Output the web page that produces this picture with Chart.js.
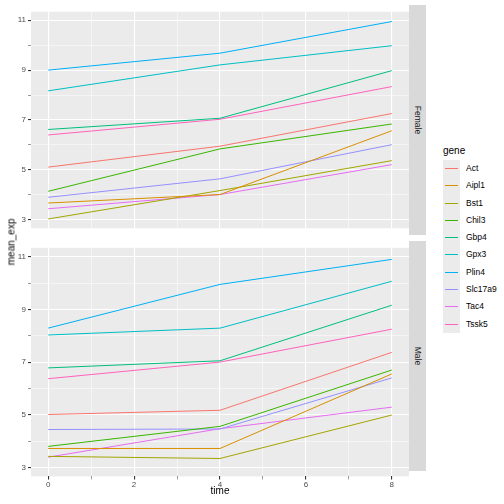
<!DOCTYPE html>
<html><head><meta charset="utf-8">
<script src="https://cdn.jsdelivr.net/npm/chart.js@4"></script>
<style>
body{margin:0;width:504px;height:504px;background:#fff;position:relative;font-family:"Liberation Sans",Arial,sans-serif;overflow:hidden}
canvas{position:absolute}
.strip{position:absolute;left:409px;width:17px;background:#D9D9D9}
.strip span{position:absolute;left:50%;top:50%;transform:translate(-50%,-50%) rotate(90deg);font-size:8.5px;color:#1A1A1A;white-space:nowrap}
#leg{position:absolute;left:443px;top:145px;font-size:8.5px;color:#000}
.k{position:relative;width:17px;height:17.3px;background:#EBEBEB}
.k i{position:absolute;left:2px;right:2px;top:8px;height:1px}
.k b{position:absolute;left:23px;top:3px;font-weight:normal;white-space:nowrap}
</style></head><body>
<div id="c1w"><canvas id="c1"></canvas></div>
<div id="c2w"><canvas id="c2"></canvas></div>
<div class="strip" style="top:5px;height:230px"><span>Female</span></div>
<div class="strip" style="top:241px;height:230px"><span>Male</span></div>
<div style="position:absolute;left:11px;top:242px;transform:translate(-50%,-50%) rotate(-90deg);font-size:10px;white-space:nowrap">mean_exp</div>
<div style="position:absolute;left:220px;top:485px;transform:translateX(-50%);font-size:10px">time</div>
<div id="leg"><div style="font-size:10px;margin-bottom:4px">gene</div></div>
<script>
const times=[0,4,8];
const genes=["Act","Aipl1","Bst1","Chil3","Gbp4","Gpx3","Plin4","Slc17a9","Tac4","Tssk5"];
const colors=["#F8766D","#D89000","#A3A500","#39B600","#00BF7D","#00BFC4","#00B0F6","#9590FF","#E76BF3","#FF62BC"];
const female=[[5.11,5.95,7.26],[3.67,4.01,6.57],[3.03,4.17,5.37],[4.14,5.84,6.84],[6.62,7.07,8.98],[8.17,9.21,9.98],[9.0,9.68,10.95],[3.90,4.64,6.01],[3.44,4.01,5.21],[6.40,7.03,8.34]];
const male=[[5.01,5.17,7.37],[3.72,3.72,6.55],[3.42,3.34,4.99],[3.80,4.56,6.70],[6.78,7.05,9.16],[8.03,8.29,10.07],[8.29,9.95,10.90],[4.44,4.46,6.40],[3.39,4.47,5.29],[6.37,7.00,8.25]];
const yTicks=[3,5,7,9,11];
const xTicks=[0,2,4,6,8];

const bg={id:'bg',beforeDraw(c){const a=c.chartArea,x=c.ctx;x.save();x.fillStyle='#EBEBEB';x.fillRect(a.left,a.top,a.right-a.left,a.bottom-a.top);x.restore();}};
function make(id,data,top,h,showX){
  const cv=document.getElementById(id);
  cv.style.left='0px';cv.style.top=top+'px';
  const W=409;
  cv.width=W;cv.height=h;cv.style.width=W+'px';cv.style.height=h+'px';
  new Chart(cv,{type:'line',
    data:{datasets:genes.map((g,i)=>({label:g,data:times.map((t,j)=>({x:t,y:data[i][j]})),borderColor:colors[i],borderWidth:1,pointRadius:0,tension:0,fill:false}))},
    options:{responsive:false,animation:false,devicePixelRatio:1,layout:{padding:0},
      plugins:{legend:{display:false},tooltip:{enabled:false}},
      scales:{
        x:{type:'linear',min:-0.4,max:8.4,afterBuildTicks(s){const t=[];for(let v=0;v<=8;v++)t.push({value:v});s.ticks=t;},
          grid:{color:'#fff',lineWidth:c=>c.tick&&c.tick.value%2===0?1.1:0.5,drawTicks:showX,tickLength:3,tickColor:'#333'},
          border:{display:false},
          ticks:{display:showX,autoSkip:false,maxRotation:0,color:'#4D4D4D',font:{size:8},padding:1,callback:v=>xTicks.includes(v)?String(v):''},
          afterFit(s){if(!showX)s.height=0;}},
        y:{type:'linear',min:2.66,max:11.34,afterBuildTicks(s){const t=[];for(let v=3;v<=11;v++)t.push({value:v});s.ticks=t;},
          grid:{color:'#fff',lineWidth:c=>c.tick&&yTicks.includes(c.tick.value)?1.1:0.5,drawTicks:true,tickLength:3,tickColor:'#333'},
          border:{display:false},
          ticks:{autoSkip:false,color:'#4D4D4D',font:{size:8},padding:2,callback:v=>yTicks.includes(v)?String(v):''},
          afterFit(s){s.width=31;}}
      }},plugins:[bg]});
}
make('c1',female,5,230,false);
make('c2',male,241,250,true);
const leg=document.getElementById('leg');
genes.forEach((g,i)=>{const d=document.createElement('div');d.className='k';d.innerHTML='<i style="background:'+colors[i]+'"></i><b>'+g+'</b>';leg.appendChild(d);});
</script></body></html>
